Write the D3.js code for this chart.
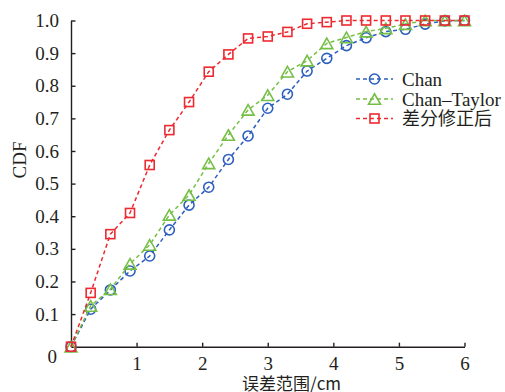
<!DOCTYPE html>
<html>
<head>
<meta charset="utf-8">
<script src="https://cdn.jsdelivr.net/npm/d3@7"></script>
<style>
  html, body { margin: 0; padding: 0; background: #fff; }
  svg { display: block; }
  text { font-family: "Liberation Serif", "Times New Roman", serif; fill: #231f20; }
  .cjk { font-family: "Noto Sans CJK SC", "Liberation Serif", serif; }
</style>
</head>
<body>
<svg id="chart" width="505" height="392"></svg>
<script>
// Error range (cm) at which each CDF value is sampled
const errorRange = [0, 0.3, 0.6, 0.9, 1.2, 1.5, 1.8, 2.1, 2.4, 2.7, 3.0, 3.3, 3.6, 3.9, 4.2, 4.5, 4.8, 5.1, 5.4, 5.7, 6.0];

// CDF of each positioning method
const chanCdf = [0, 0.115, 0.174, 0.232, 0.278, 0.358, 0.434, 0.489, 0.574, 0.646, 0.731, 0.774, 0.845, 0.884, 0.923, 0.947, 0.966, 0.973, 0.989, 0.999, 1.0];
const chanTaylorCdf = [0, 0.125, 0.176, 0.254, 0.312, 0.404, 0.465, 0.562, 0.649, 0.726, 0.771, 0.843, 0.877, 0.930, 0.948, 0.966, 0.976, 0.989, 1.0, 1.0, 1.0];
const correctedCdf = [0, 0.165, 0.345, 0.41, 0.557, 0.664, 0.75, 0.843, 0.896, 0.945, 0.951, 0.965, 0.99, 0.995, 1.0, 1.0, 1.0, 1.0, 1.0, 1.0, 1.0];

const seriesNames = ["Chan", "Chan\u2013Taylor", "差分修正后"];
const xTicks = [1, 2, 3, 4, 5, 6];
const yTicks = [0.1, 0.2, 0.3, 0.4, 0.5, 0.6, 0.7, 0.8, 0.9, 1.0];
const xTitle = "误差范围/cm";
const yTitle = "CDF";

const series = [
  { name: seriesNames[0], values: chanCdf, color: "#2d5fbe", marker: "circle" },
  { name: seriesNames[1], values: chanTaylorCdf, color: "#76bf45", marker: "triangle" },
  { name: seriesNames[2], values: correctedCdf, color: "#ec2a30", marker: "square" }
];

const svg = d3.select("#chart");
const plotLeft = 71, plotRight = 464.5, plotTop = 20.5, plotBottom = 346.7;

const x = d3.scaleLinear().domain([0, 6]).range([plotLeft, plotRight]);
const y = d3.scaleLinear().domain([0, 1]).range([plotBottom, plotTop]);

const axisColor = "#231f20";

// x axis: ticks point into the plot
const gx = svg.append("g").attr("transform", `translate(0,${plotBottom})`)
  .call(d3.axisBottom(x).tickValues(xTicks).tickSizeInner(-4).tickSizeOuter(0).tickPadding(10).tickFormat(d3.format("d")));
gx.select(".domain").attr("stroke", axisColor).attr("stroke-width", 1.4);
gx.selectAll(".tick line").attr("stroke", axisColor).attr("stroke-width", 1.4);
gx.selectAll(".tick text").attr("font-size", 19).attr("font-family", "Liberation Serif").attr("fill", axisColor);

// y axis: ticks point into the plot
const gy = svg.append("g").attr("transform", `translate(${plotLeft},0)`)
  .call(d3.axisLeft(y).tickValues(yTicks).tickSizeInner(-4.5).tickSizeOuter(0).tickPadding(12).tickFormat(d3.format(".1f")));
gy.select(".domain").attr("stroke", axisColor).attr("stroke-width", 1.4);
gy.selectAll(".tick line").attr("stroke", axisColor).attr("stroke-width", 1.4);
gy.selectAll(".tick text").attr("font-size", 19).attr("font-family", "Liberation Serif").attr("fill", axisColor);

// shared origin label
svg.append("text").attr("x", x(0) - 14).attr("y", y(0) + 16)
  .attr("text-anchor", "end").attr("font-size", 19).text("0");

// axis titles
svg.append("text").attr("class", "cjk").attr("x", 242).attr("y", 390)
  .attr("font-size", 17).text(xTitle);
svg.append("text").attr("transform", "translate(26,160) rotate(-90)")
  .attr("text-anchor", "middle").attr("font-size", 19).text(yTitle);

// marker drawing helper
function drawMarker(g, type, cx, cy, color) {
  if (type === "circle") {
    g.append("circle").attr("cx", cx).attr("cy", cy).attr("r", 5)
      .attr("fill", "none").attr("stroke", color).attr("stroke-width", 1.6);
  } else if (type === "square") {
    g.append("rect").attr("x", cx - 4.5).attr("y", cy - 4.5).attr("width", 9).attr("height", 9)
      .attr("fill", "none").attr("stroke", color).attr("stroke-width", 1.6);
  } else {
    const h = 10.5, w = 12;
    g.append("path")
      .attr("d", `M${cx},${cy - h / 2}L${cx + w / 2},${cy + h / 2}L${cx - w / 2},${cy + h / 2}Z`)
      .attr("fill", "none").attr("stroke", color).attr("stroke-width", 1.6).attr("stroke-linejoin", "miter");
  }
}

const line = d3.line().x((d, i) => x(errorRange[i])).y(d => y(d));

series.forEach(s => {
  const g = svg.append("g");
  g.append("path").datum(s.values).attr("d", line)
    .attr("fill", "none").attr("stroke", s.color).attr("stroke-width", 1.5)
    .attr("stroke-dasharray", "4,3");
  s.values.forEach((v, i) => drawMarker(g, s.marker, x(errorRange[i]), y(v), s.color));
});

// legend
const legendRows = [79, 99, 118.5];
series.forEach((s, i) => {
  const g = svg.append("g");
  const ly = legendRows[i];
  g.append("line").attr("x1", 356).attr("x2", 393).attr("y1", ly).attr("y2", ly)
    .attr("stroke", s.color).attr("stroke-width", 1.5).attr("stroke-dasharray", "4,3");
  drawMarker(g, s.marker, 374.5, ly, s.color);
  g.append("text").attr("x", 402).attr("y", ly + 6.5)
    .attr("class", i === 2 ? "cjk" : null)
    .attr("font-size", i === 2 ? 18 : 19).text(s.name);
});
</script>
</body>
</html>
